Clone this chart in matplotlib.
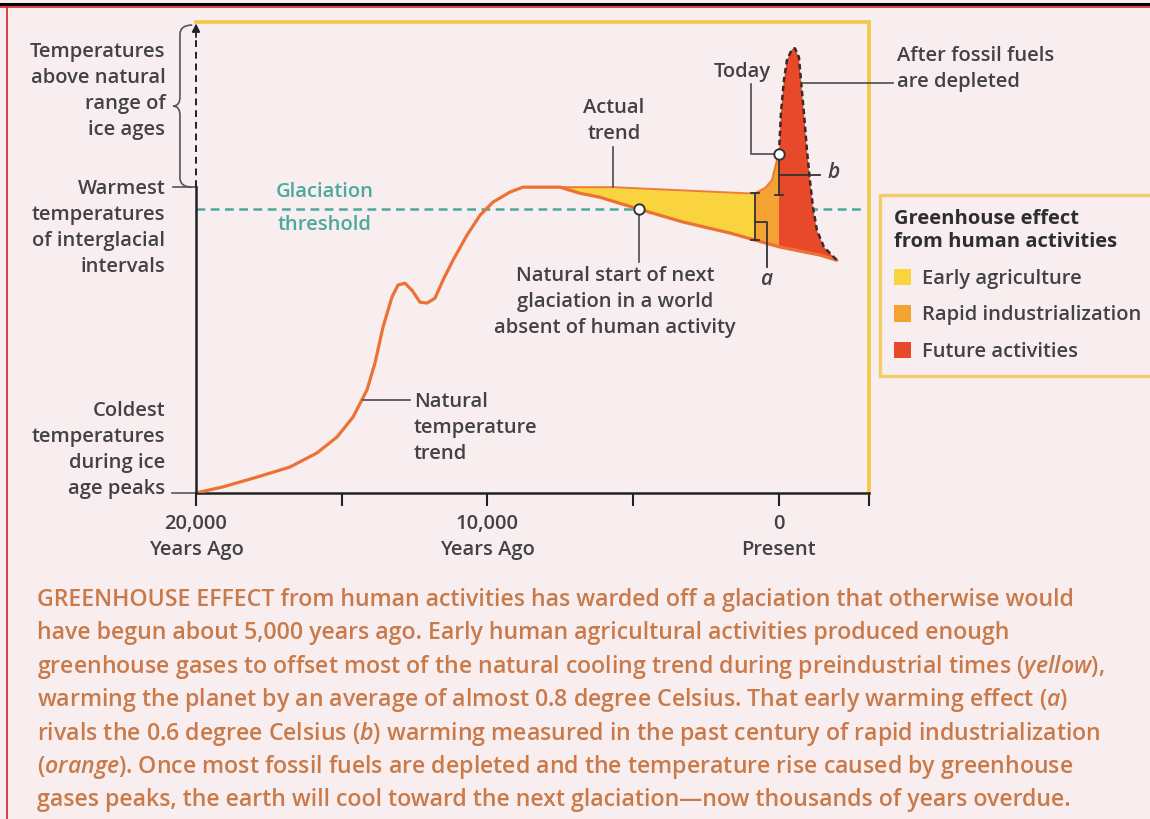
import numpy as np
import matplotlib
matplotlib.use("Agg")
import matplotlib.pyplot as plt
from matplotlib.path import Path
from matplotlib.patches import PathPatch, Rectangle
from matplotlib.lines import Line2D

# ---------------- data (years relative to present, temperature in relative units) ----
nat_x = [-20000, -19074, -17907, -16775, -15849, -15163, -14614, -14134, -13859, -13585,
         -13276, -13070, -12830, -12590, -12316, -12075, -11801, -11527, -11183, -10703,
         -10257, -9811, -9228, -8782, -8096, -7513, -6827, -6141, -4800, -3293, -1681,
         -823, 0, 720, 1406, 1990]
nat_y = [0.0, 0.020, 0.052, 0.085, 0.131, 0.183, 0.248, 0.337, 0.425, 0.542,
         0.641, 0.680, 0.686, 0.663, 0.624, 0.621, 0.637, 0.696, 0.761, 0.843,
         0.908, 0.951, 0.984, 1.000, 1.000, 1.000, 0.980, 0.967, 0.928, 0.886, 0.850,
         0.827, 0.805, 0.791, 0.778, 0.761]

act_x = [-7513, -5695, -3400, -1100, -823, -480, -240, -70, 0]
act_y = [1.000, 1.000, 0.990, 0.980, 0.980, 0.997, 1.023, 1.088, 1.108]

fut_x = [0, 69, 172, 274, 446, 549, 686, 755, 858, 961, 1063, 1166, 1304, 1544, 1990]
fut_y = [1.108, 1.242, 1.350, 1.415, 1.451, 1.454, 1.425, 1.350, 1.242, 1.121, 1.023,
         0.935, 0.859, 0.804, 0.761]

threshold = 0.928
glac_start_x = -4800
today_x, today_y = 0, 1.108
preindustrial_y = 0.974
agri_end_x = -823

tick_pos = [-20000, -15000, -10000, -5000, 0]
tick_labels = ["20,000\nYears Ago", "", "10,000\nYears Ago", "", "0\nPresent"]
legend_labels = ["Early agriculture", "Rapid industrialization", "Future activities"]

caption_lines = [
    r"GREENHOUSE EFFECT from human activities has warded off a glaciation that otherwise would",
    r"have begun about 5,000 years ago. Early human agricultural activities produced enough",
    r"greenhouse gases to offset most of the natural cooling trend during preindustrial times ($\mathit{yellow}$),",
    r"warming the planet by an average of almost 0.8 degree Celsius. That early warming effect ($\mathit{a}$)",
    r"rivals the 0.6 degree Celsius ($\mathit{b}$) warming measured in the past century of rapid industrialization",
    r"($\mathit{orange}$). Once most fossil fuels are depleted and the temperature rise caused by greenhouse",
    r"gases peaks, the earth will cool toward the next glaciation—now thousands of years overdue.",
]

# ---------------- style ----------------
BG = "#F8EEF0"
TXT = "#424242"
LEAD = "#4A4A4A"
TEAL = "#4DA89D"
FRAME = "#F2C744"
LINE = "#EC7135"
YEL = "#F9D43E"
ORA = "#F4A232"
RED = "#E9492B"
CAP = "#C97A48"
FONT = "Open Sans"
WT = "semibold"

plt.rcParams["font.family"] = [FONT, "DejaVu Sans"]
plt.rcParams["mathtext.fontset"] = "custom"
plt.rcParams["mathtext.rm"] = FONT + ":semibold"
plt.rcParams["mathtext.it"] = FONT + ":italic:semibold"

W, H = 1150, 819
fig = plt.figure(figsize=(W / 100, H / 100), dpi=100, facecolor=BG)

x0px, x1px, ytop_px, ybot_px = 196, 869, 22, 493
ax = fig.add_axes([x0px / W, (H - ybot_px) / H, (x1px - x0px) / W, (ybot_px - ytop_px) / H])
ax.set_facecolor(BG)
XMAX, YMAX = 3090, 1.54
ax.set_xlim(-20000, XMAX)
ax.set_ylim(0, YMAX)

for s in ["top", "right"]:
    ax.spines[s].set_color(FRAME)
    ax.spines[s].set_linewidth(2.6)
ax.spines["left"].set_visible(False)
ax.spines["bottom"].set_color("#222222")
ax.spines["bottom"].set_linewidth(1.8)
ax.set_yticks([])
ax.set_xticks(tick_pos + [XMAX])
ax.set_xticklabels(tick_labels + [""], fontsize=14.5, color=TXT, linespacing=1.42,
                   weight=WT)
ax.tick_params(axis="x", direction="out", length=9, width=1.5, color="#222222", pad=6)

nat_x_a = np.array(nat_x); nat_y_a = np.array(nat_y)
act_x_a = np.array(act_x); act_y_a = np.array(act_y)
fut_x_a = np.array(fut_x); fut_y_a = np.array(fut_y)


def nat_between(a, b):
    m = (nat_x_a >= a) & (nat_x_a <= b)
    return nat_x_a[m], nat_y_a[m]


# yellow: early agriculture
m = act_x_a <= agri_end_x
nx, ny = nat_between(act_x_a[0], agri_end_x)
h_y = ax.fill(np.r_[act_x_a[m], nx[::-1]], np.r_[act_y_a[m], ny[::-1]],
              color=YEL, lw=0, zorder=2, label=legend_labels[0])[0]
# orange: rapid industrialization
m = act_x_a >= agri_end_x
nx, ny = nat_between(agri_end_x, today_x)
h_o = ax.fill(np.r_[act_x_a[m], nx[::-1]], np.r_[act_y_a[m], ny[::-1]],
              color=ORA, lw=0, zorder=2, label=legend_labels[1])[0]
# red: future
nx, ny = nat_between(today_x, fut_x_a[-1])
h_r = ax.fill(np.r_[fut_x_a, nx[::-1]], np.r_[fut_y_a, ny[::-1]],
              color=RED, lw=0, zorder=2, label=legend_labels[2])[0]

ax.plot(nat_x_a, nat_y_a, color=LINE, lw=2.3, zorder=3, solid_capstyle="round",
        solid_joinstyle="round")
ax.plot(act_x_a, act_y_a, color=LINE, lw=1.4, zorder=3, alpha=0.9)
ax.plot(fut_x_a, fut_y_a, color="#3A2A28", lw=1.8, ls=(0, (2.2, 1.4)), zorder=4)

# glaciation threshold
ax.plot([-20000, 2850], [threshold, threshold], color=TEAL, lw=1.8,
        ls=(0, (3.5, 2.2)), zorder=1)
ax.text(-15575, 0.984, "Glaciation", color=TEAL, fontsize=14.5, ha="center", va="center",
        weight=WT)
ax.text(-15575, 0.876, "threshold", color=TEAL, fontsize=14.5, ha="center", va="center",
        weight=WT)

# y axis: solid part and dashed arrow part
ax.plot([-20000, -20000], [0, 1.0], color="#222222", lw=1.8, clip_on=False, zorder=5)
ax.plot([-20000, -20000], [1.0, 1.50], color="#222222", lw=1.4, ls=(0, (3.5, 2.5)),
        clip_on=False, zorder=5)
ax.annotate("", xy=(-20000, 1.535), xytext=(-20000, 1.49),
            arrowprops=dict(arrowstyle="-|>", color="#222222", lw=1.2,
                            mutation_scale=12, shrinkA=0, shrinkB=0),
            annotation_clip=False, zorder=6)

# brace
xl, xr, xt = -20550, -20130, -20790
yt, yb, ytip, r = 1.53, 1.0, 1.265, 0.03
verts = [(xr, yt), (xl, yt), (xl, yt - r), (xl, ytip + r), (xl, ytip), (xt, ytip),
         (xl, ytip), (xl, ytip - r), (xl, yb + r), (xl, yb), (xr, yb)]
codes = [Path.MOVETO, Path.CURVE3, Path.CURVE3, Path.LINETO, Path.CURVE3, Path.CURVE3,
         Path.CURVE3, Path.CURVE3, Path.LINETO, Path.CURVE3, Path.CURVE3]
ax.add_patch(PathPatch(Path(verts, codes), fc="none", ec="#555555", lw=1.2,
                       clip_on=False))

# left labels
LX = -21050
LS = 1.39
lbl = dict(fontsize=14.5, color=TXT, ha="right", va="center", linespacing=LS,
           clip_on=False, weight=WT)
ax.text(LX, 1.315, "Temperatures\nabove natural\nrange of\nice ages", **lbl)
ax.text(LX, 0.866, "Warmest\ntemperatures\nof interglacial\nintervals", **lbl)
ax.text(LX, 0.14, "Coldest\ntemperatures\nduring ice\nage peaks", **lbl)
ax.plot([-20789, -20000], [1.0, 1.0], color="#555555", lw=1.2, clip_on=False)
ax.plot([-20820, -20000], [0.0, 0.0], color="#555555", lw=1.2, clip_on=False)

ann = dict(fontsize=14.5, color=TXT, linespacing=LS, weight=WT)
# natural temperature trend
ax.plot([-14271, -12658], [0.304, 0.304], color=LEAD, lw=1.2, zorder=4)
ax.text(-12521, 0.212, "Natural\ntemperature\ntrend", ha="left", va="center", **ann)

# actual trend
ax.plot([-5695, -5695], [1.131, 1.0], color=LEAD, lw=1.2, zorder=4)
ax.text(-5660, 1.216, "Actual\ntrend", ha="center", va="center", **ann)

# natural start of next glaciation
ax.plot([glac_start_x, glac_start_x], [threshold, 0.755], color=LEAD, lw=1.2, zorder=4)
ax.plot([glac_start_x], [threshold], marker="o", ms=7.5, mfc="white", mec="#333333",
        mew=1.4, zorder=6)
ax.text(-5626, 0.624, "Natural start of next\nglaciation in a world\nabsent of human activity",
        ha="center", va="center", **ann)

# today
ax.plot([today_x - 960, today_x - 960, today_x], [1.337, today_y, today_y],
        color=LEAD, lw=1.2, zorder=4)
ax.plot([today_x], [today_y], marker="o", ms=7.5, mfc="white", mec="#333333",
        mew=1.4, zorder=6)
ax.text(-1270, 1.376, "Today", ha="center", va="center", **ann)

# b bracket
ax.plot([today_x, today_x], [today_y, preindustrial_y], color="#333333", lw=1.3, zorder=5)
ax.plot([today_x - 130, today_x + 130], [preindustrial_y, preindustrial_y],
        color="#333333", lw=1.3, zorder=5)
ax.plot([today_x, 1406], [1.039, 1.039], color="#333333", lw=1.3, zorder=5,
        clip_on=False)
ax.text(1860, 1.049, "b", ha="center", va="center", fontsize=15, style="italic",
        color=TXT, weight=WT)

# a bracket
ya0 = float(np.interp(agri_end_x, nat_x_a, nat_y_a))
ya1 = float(np.interp(agri_end_x, act_x_a, act_y_a))
ax.plot([agri_end_x, agri_end_x], [ya0, ya1], color="#333333", lw=1.3, zorder=5)
for yy in (ya0, ya1):
    ax.plot([agri_end_x - 130, agri_end_x + 130], [yy, yy], color="#333333", lw=1.3,
            zorder=5)
ax.plot([agri_end_x, -412, -412], [0.886, 0.886, 0.739], color="#333333", lw=1.3, zorder=5)
ax.text(-440, 0.699, "a", ha="center", va="center", fontsize=15, style="italic",
        color=TXT, weight=WT)

# after fossil fuels
ax.plot([760, 3910], [1.340, 1.340], color=LEAD, lw=1.2, zorder=4, clip_on=False)
ax.text(4048, 1.386, "After fossil fuels\nare depleted", ha="left", va="center",
        clip_on=False, **ann)

# legend
leg = fig.legend(handles=[h_y, h_o, h_r], labels=legend_labels, loc="upper left",
                 bbox_to_anchor=(880 / W, (H - 195) / H), borderaxespad=0,
                 title="Greenhouse effect\nfrom human activities",
                 title_fontproperties=dict(size=14.5, weight="bold"),
                 prop=dict(size=14.5, weight=WT), frameon=True, fancybox=False,
                 handlelength=0.85, handleheight=0.85, handletextpad=0.55,
                 labelspacing=0.82, borderpad=0.68, alignment="left",
                 labelcolor=TXT)
leg.get_frame().set_edgecolor(FRAME)
leg.get_frame().set_linewidth(2.4)
leg.get_frame().set_facecolor(BG)
leg.get_title().set_color("#2E2E2E")
leg.get_title().set_multialignment("left")
leg.get_title().set_linespacing(1.25)

# caption, width fitted to the first line
cap_texts = []
for i, line in enumerate(caption_lines):
    t = fig.text(37 / W, (H - (600 + i * 33.4)) / H, line, color=CAP, fontsize=14,
                 weight=WT, ha="left", va="center")
    cap_texts.append(t)
renderer = fig.canvas.get_renderer()
w0 = cap_texts[0].get_window_extent(renderer).width
fs = 14 * (1083 - 37) / w0
for t in cap_texts:
    t.set_fontsize(fs)

# page border artifacts
fig.add_artist(Line2D([0, 1], [1 - 3.5 / H, 1 - 3.5 / H], color="black", lw=2.2,
                      transform=fig.transFigure))
fig.add_artist(Line2D([0, 1], [1 - 7 / H, 1 - 7 / H], color="#E02020", lw=1.2,
                      transform=fig.transFigure))
fig.add_artist(Line2D([6.5 / W, 6.5 / W], [0, 1 - 7 / H], color="#E02020", lw=1.2,
                      transform=fig.transFigure))

fig.savefig("out.png", dpi=100, facecolor=BG)
